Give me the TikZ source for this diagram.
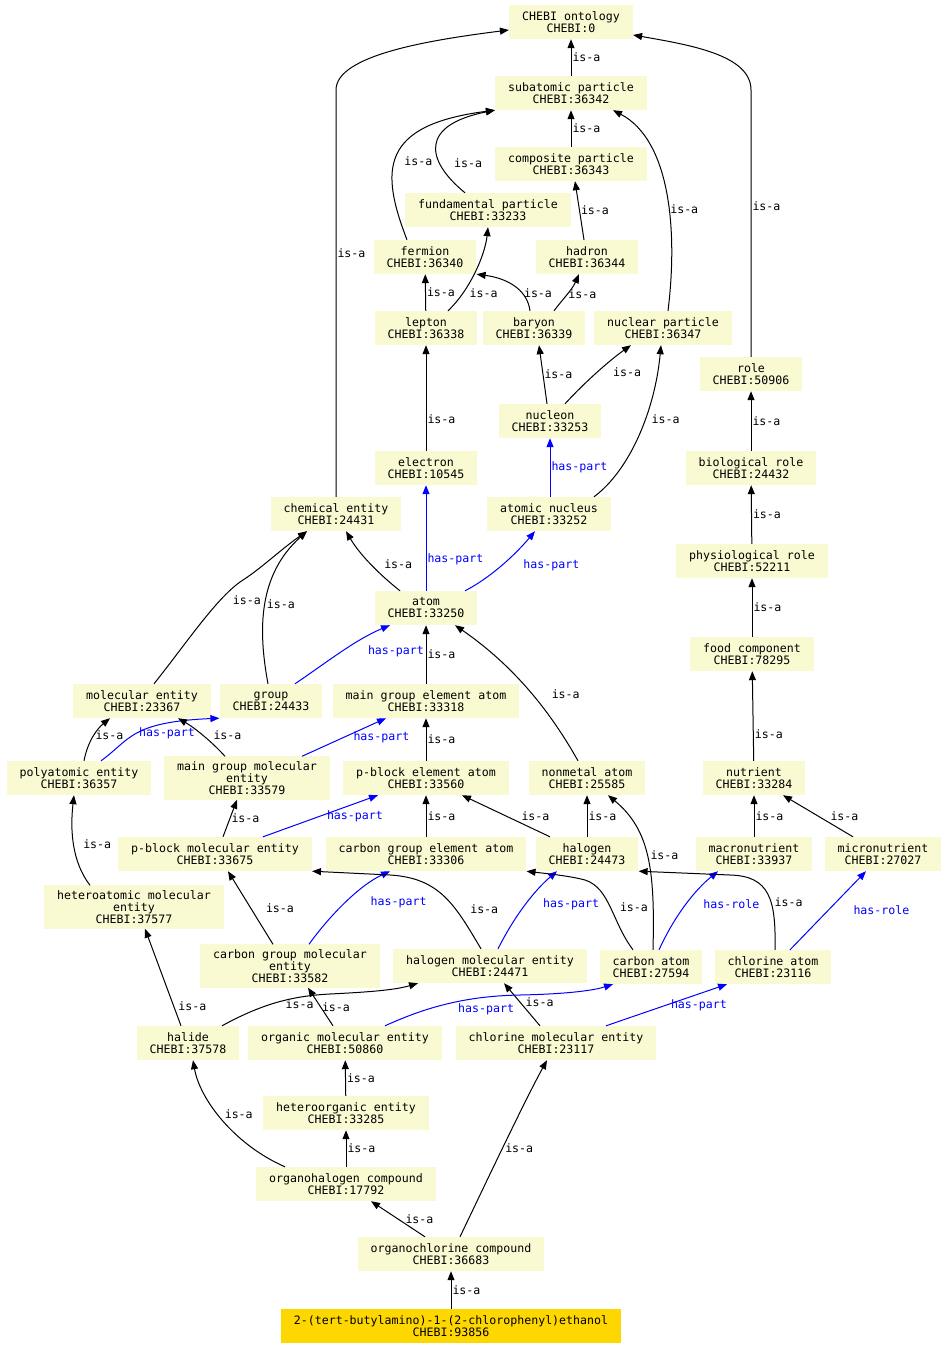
\documentclass[tikz,border=0pt]{standalone}
\usepackage{fontspec}
\setmonofont{DejaVu Sans Mono}
\usepackage{tikz}
\usetikzlibrary{arrows.meta}
\definecolor{termfill}{HTML}{FAFAD2}
\definecolor{targetfill}{HTML}{FFD700}
\newcommand{\chebifont}{\ttfamily\fontsize{11.6pt}{12pt}\selectfont}
\tikzset{
  term/.style={
    rectangle, fill=termfill, draw=none, align=center,
    inner xsep=13pt, inner ysep=5pt, minimum height=34pt,
    font=\chebifont
  },
  target/.style={term, fill=targetfill},
  isa/.style={-{Triangle[length=9pt,width=7pt]}, line width=1pt, color=black},
  haspart/.style={isa, color=blue},
  lbl/.style={font=\chebifont, inner sep=1pt, text=black},
  bluelbl/.style={lbl, text=blue}
}

\begin{document}
\begin{tikzpicture}[x=1pt,y=-1pt]
  \useasboundingbox (0,0) rectangle (949,1351);

  % terms
  \node[term] (ont) at (571,22) {CHEBI ontology\\CHEBI:0};
  \node[term] (subat) at (571,93) {subatomic particle\\CHEBI:36342};
  \node[term] (compos) at (571,164) {composite particle\\CHEBI:36343};
  \node[term] (fund) at (488,210) {fundamental particle\\CHEBI:33233};
  \node[term] (fermion) at (425,257) {fermion\\CHEBI:36340};
  \node[term] (hadron) at (587,257) {hadron\\CHEBI:36344};
  \node[term] (lepton) at (426,328) {lepton\\CHEBI:36338};
  \node[term] (baryon) at (534,328) {baryon\\CHEBI:36339};
  \node[term] (nucpart) at (663,328) {nuclear particle\\CHEBI:36347};
  \node[term] (role) at (751,374) {role\\CHEBI:50906};
  \node[term] (nucleon) at (550,421) {nucleon\\CHEBI:33253};
  \node[term] (electron) at (426,468) {electron\\CHEBI:10545};
  \node[term] (biorole) at (751,468) {biological role\\CHEBI:24432};
  \node[term] (chement) at (336,514) {chemical entity\\CHEBI:24431};
  \node[term] (nucleus) at (549,514) {atomic nucleus\\CHEBI:33252};
  \node[term] (physrole) at (752,561) {physiological role\\CHEBI:52211};
  \node[term] (atom) at (426,608) {atom\\CHEBI:33250};
  \node[term] (food) at (752,654) {food component\\CHEBI:78295};
  \node[term] (molent) at (142,701) {molecular entity\\CHEBI:23367};
  \node[term] (group) at (271,701) {group\\CHEBI:24433};
  \node[term] (mgatom) at (426,701) {main group element atom\\CHEBI:33318};
  \node[term] (polyat) at (79,778) {polyatomic entity\\CHEBI:36357};
  \node[term] (mgmol) at (247,778) {main group molecular\\entity\\CHEBI:33579};
  \node[term] (pbatom) at (426,778) {p-block element atom\\CHEBI:33560};
  \node[term] (nonmetal) at (587,778) {nonmetal atom\\CHEBI:25585};
  \node[term] (nutrient) at (754,778) {nutrient\\CHEBI:33284};
  \node[term] (pbmol) at (215,854) {p-block molecular entity\\CHEBI:33675};
  \node[term] (cgatom) at (426,854) {carbon group element atom\\CHEBI:33306};
  \node[term] (halogen) at (587,854) {halogen\\CHEBI:24473};
  \node[term] (macro) at (754,854) {macronutrient\\CHEBI:33937};
  \node[term] (micro) at (883,854) {micronutrient\\CHEBI:27027};
  \node[term] (hetmol) at (134,907) {heteroatomic molecular\\entity\\CHEBI:37577};
  \node[term] (cgmol) at (290,966) {carbon group molecular\\entity\\CHEBI:33582};
  \node[term] (halmol) at (490,966) {halogen molecular entity\\CHEBI:24471};
  \node[term] (carbon) at (651,967) {carbon atom\\CHEBI:27594};
  \node[term] (chlorine) at (773,967) {chlorine atom\\CHEBI:23116};
  \node[term] (halide) at (188,1043) {halide\\CHEBI:37578};
  \node[term] (orgmol) at (345,1043) {organic molecular entity\\CHEBI:50860};
  \node[term] (clmol) at (556,1043) {chlorine molecular entity\\CHEBI:23117};
  \node[term] (hetorg) at (346,1113) {heteroorganic entity\\CHEBI:33285};
  \node[term] (orghal) at (346,1184) {organohalogen compound\\CHEBI:17792};
  \node[term] (orgcl) at (451,1254) {organochlorine compound\\CHEBI:36683};
  \node[target] (target) at (451,1326) {2-(tert-butylamino)-1-(2-chlorophenyl)ethanol\\CHEBI:93856};

  % particles
  \draw[isa] (subat) -- node[lbl,right]{is-a} (ont);
  \draw[isa] (compos) -- node[lbl,right]{is-a} (subat);
  \draw[isa] ([xshift=-18pt]fermion.north) .. controls (380,170) and (380,125) .. node[lbl,pos=0.45,right=8pt]{is-a} (subat.south west);
  \draw[isa] ([xshift=-23pt]fund.north) .. controls (425,160) and (420,125) .. node[lbl,pos=0.3,right=13pt]{is-a} (subat.south west);
  \draw[isa] ([xshift=-3pt]hadron.north) -- node[lbl,right]{is-a} ([xshift=4pt]compos.south);
  \draw[isa] (lepton) -- node[lbl,right]{is-a} (fermion);
  \draw[isa] ([xshift=22pt]lepton.north) .. controls (470,290) and (485,255) .. node[lbl,pos=0.25,right=5pt]{is-a} (fund.south);
  \draw[isa] ([xshift=-4pt]baryon.north) .. controls (527,288) and (505,278) .. node[lbl,pos=0.3,right]{is-a} (fermion.south east);
  \draw[isa] ([xshift=20pt]baryon.north) .. controls (562,300) and (572,290) .. node[lbl,pos=0.5,right]{is-a} ([xshift=-8pt]hadron.south);
  \draw[isa] ([xshift=5pt]nucpart.north) .. controls (678,230) and (670,140) .. node[lbl,pos=0.42,right]{is-a} ([xshift=42pt]subat.south);
  \draw[isa] (chement.north) -- node[lbl,pos=0.6,right]{is-a} (336,90) .. controls (336,55) and (430,40) .. ([yshift=-8pt]ont.west);
  \draw[isa] (role.north) -- node[lbl,pos=0.565,right]{is-a} (751,90) .. controls (751,55) and (690,45) .. ([yshift=-13pt]ont.east);
  \draw[isa] ([xshift=-3pt]nucleon.north) -- node[lbl,right]{is-a} ([xshift=5pt]baryon.south);
  \draw[isa] ([xshift=15pt]nucleon.north) .. controls (585,382) and (610,360) .. node[lbl,pos=0.5,right=14pt]{is-a} ([xshift=-32pt]nucpart.south);
  \draw[isa] ([xshift=45pt]nucleus.north) .. controls (630,470) and (655,410) .. node[lbl,pos=0.6,right=5pt]{is-a} ([xshift=-2pt]nucpart.south);
  \draw[isa] (electron) -- node[lbl,pos=0.3,right]{is-a} (lepton);
  \draw[haspart] (nucleus.north -| nucleon) -- node[bluelbl,right]{has-part} (nucleon);

  % roles
  \draw[isa] (biorole) -- node[lbl,right]{is-a} (role);
  \draw[isa] (physrole) -- node[lbl,right]{is-a} (biorole);
  \draw[isa] (food) -- node[lbl,right]{is-a} (physrole);
  \draw[isa] (nutrient) -- node[lbl,pos=0.3,right]{is-a} (food);
  \draw[isa] (macro) -- node[lbl,right]{is-a} (nutrient);
  \draw[isa] ([xshift=-30pt]micro.north) -- node[lbl,right=11pt]{is-a} ([xshift=29pt]nutrient.south);

  % atoms and entities
  \draw[isa] ([xshift=-26pt]atom.north) .. controls (380,575) and (360,555) .. node[lbl,pos=0.5,right=12pt]{is-a} ([xshift=10pt]chement.south);
  \draw[haspart] (atom) -- node[bluelbl,pos=0.3,right]{has-part} (electron);
  \draw[haspart] ([xshift=39pt]atom.north) .. controls (490,578) and (515,555) .. node[bluelbl,pos=0.5,right=20pt]{has-part} ([xshift=-14pt]nucleus.south);
  \draw[isa] ([xshift=12pt]molent.north) .. controls (185,645) and (215,600) .. node[lbl,pos=0.75,right=11pt]{is-a} (240,582) .. controls (262,568) and (280,550) .. ([xshift=-29pt]chement.south);
  \draw[isa] ([xshift=-3pt]group.north) .. controls (258,630) and (258,575) .. node[lbl,pos=0.5,right]{is-a} ([xshift=-29pt]chement.south);
  \draw[haspart] ([xshift=24pt]group.north) .. controls (330,660) and (355,640) .. node[bluelbl,pos=0.5,right=24pt]{has-part} ([xshift=-36pt]atom.south);
  \draw[isa] (mgatom) -- node[lbl,right]{is-a} (atom);
  \draw[isa] ([xshift=-9pt]nonmetal.north) .. controls (555,720) and (520,670) .. node[lbl,pos=0.5,right=18pt]{is-a} ([xshift=29pt]atom.south);
  \draw[isa] ([xshift=5pt]polyat.north) .. controls (88,740) and (98,728) .. node[lbl,pos=0.5,right]{is-a} ([xshift=-32pt]molent.south);
  \draw[haspart] ([xshift=22pt]polyat.north) .. controls (130,740) and (130,722) .. node[bluelbl,pos=0.5,right]{has-part} (group.south west);
  \draw[isa] ([xshift=-22pt]mgmol.north) .. controls (212,742) and (195,728) .. node[lbl,pos=0.5,right=9pt]{is-a} ([xshift=36pt]molent.south);
  \draw[haspart] ([xshift=55pt]mgmol.north) -- node[bluelbl,pos=0.5,right=8pt]{has-part} ([xshift=-40pt]mgatom.south);
  \draw[isa] (pbatom) -- node[lbl,right]{is-a} (mgatom);
  \draw[isa] ([xshift=8pt]pbmol.north) -- node[lbl,right]{is-a} ([xshift=-10pt]mgmol.south);
  \draw[haspart] ([xshift=48pt]pbmol.north) -- node[bluelbl,pos=0.5,right=5pt]{has-part} ([xshift=-48pt]pbatom.south);
  \draw[isa] (cgatom) -- node[lbl,right]{is-a} (pbatom);
  \draw[isa] ([xshift=-37pt]halogen.north) -- node[lbl,right=14pt]{is-a} ([xshift=36pt]pbatom.south);
  \draw[isa] (halogen) -- node[lbl,right]{is-a} (nonmetal);
  \draw[isa] ([xshift=-44pt]hetmol.north) .. controls (72,862) and (70,830) .. node[lbl,pos=0.5,right=8pt]{is-a} ([xshift=-5pt]polyat.south);
  \draw[isa] ([xshift=2pt]carbon.north) .. controls (655,870) and (650,830) .. node[lbl,pos=0.5,right=2pt]{is-a} ([xshift=21pt]nonmetal.south);
  \draw[isa] ([xshift=-17pt]cgmol.north) -- node[lbl,right=14pt]{is-a} ([xshift=13pt]pbmol.south);
  \draw[haspart] ([xshift=19pt]cgmol.north) .. controls (330,915) and (360,885) .. node[bluelbl,pos=0.5,right=23pt]{has-part} ([xshift=-36pt]cgatom.south);
  \draw[isa] ([xshift=-9pt]halmol.north) .. controls (455,905) and (440,878) .. node[lbl,pos=0.35,right=13pt]{is-a} (390,875) -- (pbmol.south east);
  \draw[haspart] ([xshift=8pt]halmol.north) .. controls (515,915) and (535,890) .. node[bluelbl,pos=0.5,right=16pt]{has-part} ([xshift=-30pt]halogen.south);
  \draw[isa] ([xshift=-18pt]carbon.north) .. controls (612,922) and (610,888) .. node[lbl,pos=0.5,right=8pt]{is-a} (585,880) .. controls (570,876) and (550,874) .. (cgatom.south east);
  \draw[haspart] ([xshift=8pt]carbon.north) .. controls (675,915) and (695,890) .. node[bluelbl,pos=0.5,right=16pt]{has-role} ([xshift=-36pt]macro.south);
  \draw[isa] ([xshift=2pt]chlorine.north) .. controls (776,900) and (770,876) .. node[lbl,pos=0.4,right=2pt]{is-a} (730,875) -- (halogen.south east);
  \draw[haspart] ([xshift=17pt]chlorine.north) -- node[bluelbl,pos=0.5,right=24pt]{has-role} ([xshift=-17pt]micro.south);

  % lower hierarchy
  \draw[isa] ([xshift=-7pt]halide.north) -- node[lbl,pos=0.2,right=3pt]{is-a} ([xshift=11pt]hetmol.south);
  \draw[isa] ([xshift=34pt]halide.north) .. controls (260,1005) and (290,996) .. node[lbl,pos=0.45,right=14pt]{is-a} (330,994) .. controls (370,992) and (395,990) .. ([xshift=-72pt]halmol.south);
  \draw[isa] ([xshift=-12pt]orgmol.north) -- node[lbl,right]{is-a} ([xshift=18pt]cgmol.south);
  \draw[haspart] ([xshift=40pt]orgmol.north) .. controls (420,1010) and (460,996) .. node[bluelbl,pos=0.6,anchor=north west]{has-part} (520,995) .. controls (570,994) and (595,990) .. ([xshift=-38pt]carbon.south);
  \draw[isa] ([xshift=-16pt]clmol.north) -- node[lbl,pos=0.55,right=4pt]{is-a} ([xshift=14pt]halmol.south);
  \draw[haspart] ([xshift=50pt]clmol.north) -- node[bluelbl,pos=0.5,right=3pt]{has-part} ([xshift=-46pt]chlorine.south);
  \draw[isa] (hetorg) -- node[lbl,right]{is-a} (orgmol);
  \draw[isa] (orghal) -- node[lbl,right]{is-a} (hetorg);
  \draw[isa] ([xshift=-61pt]orghal.north) .. controls (235,1145) and (200,1100) .. node[lbl,pos=0.55,right=5pt]{is-a} ([xshift=5pt]halide.south);
  \draw[isa] ([xshift=-26pt]orgcl.north) -- node[lbl,right=6pt]{is-a} ([xshift=25pt]orghal.south);
  \draw[isa] ([xshift=9pt]orgcl.north) .. controls (480,1195) and (525,1100) .. node[lbl,pos=0.5,right=1pt]{is-a} ([xshift=-9pt]clmol.south);
  \draw[isa] (target) -- node[lbl,right]{is-a} (orgcl);
\end{tikzpicture}
\end{document}
